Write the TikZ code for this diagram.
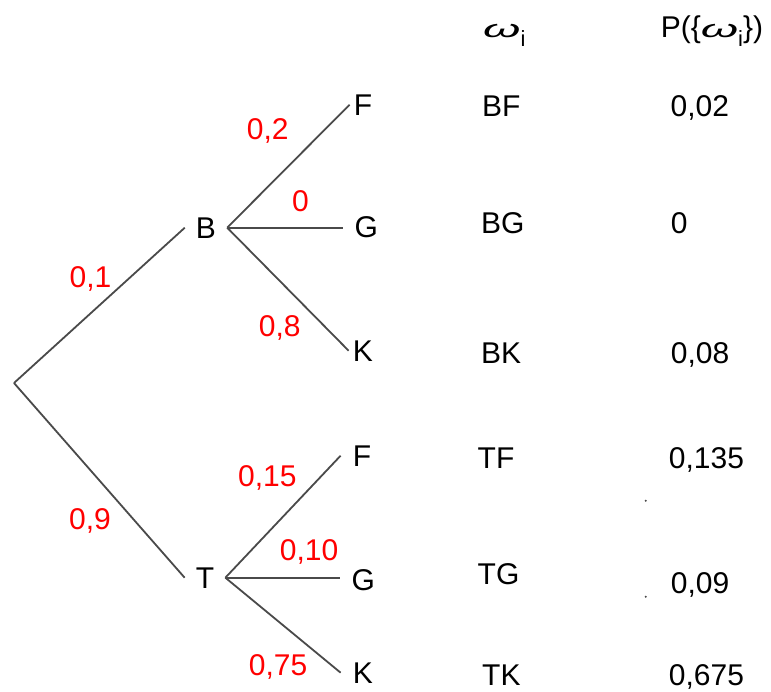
\documentclass[tikz,border=0pt]{standalone}
\usepackage{fontspec}
\setmainfont{Liberation Sans}
\usepackage{graphicx}
\definecolor{linegray}{HTML}{4A4A4A}
\newcommand\lowsub[1]{\raisebox{-9pt}{\fontsize{22}{24}\selectfont #1}}
\newcommand\om{\scalebox{1.6}[0.82]{\textit{ω}}}
\begin{document}
\begin{tikzpicture}[x=1pt,y=-1pt,
  every node/.style={font=\fontsize{30}{36}\selectfont, inner sep=0pt},
  branch/.style={draw=linegray, line width=1.8pt},
  lbl/.style={anchor=base west, text=red},
  leaf/.style={anchor=base west},
  mid/.style={anchor=base, inner xsep=11pt},
  col/.style={anchor=base west}]
\useasboundingbox (0,0) rectangle (771,691);
% tree
\coordinate (R) at (14,383);
\node[mid] (B) at (206,238) {B};
\node[mid] (T) at (205,588) {T};
\node[leaf, inner xsep=4pt]  (F1) at (349.6,115) {F};
\node[leaf, inner xsep=12pt] (G1) at (342.5,237) {G};
\node[leaf, inner xsep=4pt]  (K1) at (348.6,361) {K};
\node[leaf, inner xsep=12pt] (F2) at (340.6,466) {F};
\node[leaf, inner xsep=12pt] (G2) at (339.5,590) {G};
\node[leaf, inner xsep=12pt] (K2) at (340.6,683) {K};
\draw[branch] (R) -- (B.west);
\draw[branch] (R) -- (T.west);
\draw[branch] (B.east) -- (F1.west);
\draw[branch] (B.east) -- (B.east -| G1.west);
\draw[branch] (B.east) -- (K1.west);
\draw[branch] (T.east) -- (F2.west);
\draw[branch] (T.east) -- (T.east -| G2.west);
\draw[branch] (T.east) -- (K2.west);
% probabilities on branches
\node[lbl] (p1) at (69.4,287) {0,1};
\node[lbl] (p2) at (69,529) {0,9};
\node[lbl] (p3) at (246.7,139) {0,2};
\node[lbl] (p4) at (292,211) {0};
\node[lbl] (p5) at (258.7,336) {0,8};
\node[lbl] (p6) at (238,486) {0,15};
\node[lbl] (p7) at (279.7,560) {0,10};
\node[lbl] (p8) at (248.7,675) {0,75};
% headers
\node[col] (h1) at (483,37) {\om\lowsub{i}};
\node[col] (h2) at (660.6,37) {P(\{\om\lowsub{i}\})};
% outcomes
\node[col] (o1) at (481.8,116.5) {BF};
\node[col] (o2) at (481,233) {BG};
\node[col] (o3) at (481,363) {BK};
\node[col] (o4) at (477.5,468) {TF};
\node[col] (o5) at (477.5,584) {TG};
\node[col] (o6) at (482,685) {TK};
% probabilities of outcomes
\node[col] (q1) at (670.4,116) {0,02};
\node[col] (q2) at (670.7,233) {0};
\node[col] (q3) at (670.7,363) {0,08};
\node[col] (q4) at (668.7,468) {0,135};
\node[col] (q5) at (670.7,593) {0,09};
\node[col] (q6) at (668.7,685) {0,675};
\fill[linegray] (645.7,500.7) circle (1.1pt);
\fill[linegray] (645.7,596.7) circle (1.1pt);
\end{tikzpicture}
\end{document}
